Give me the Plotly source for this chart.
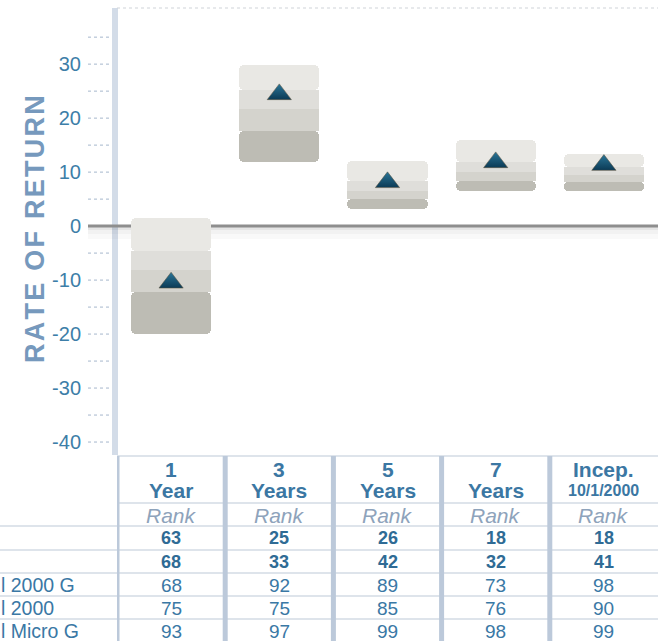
import plotly.graph_objects as go

# ---------------- data ----------------
periods = ["1 Year", "3 Years", "5 Years", "7 Years", "Incep."]
header_top = ["1", "3", "5", "7", "Incep."]
header_bottom = ["Year", "Years", "Years", "Years", "10/1/2000"]

# quartile band boundaries (top -> bottom), % return
band_top = [1.5, 29.8, 12.0, 15.9, 13.3]
band_q1 = [-4.6, 25.2, 8.3, 11.9, 10.9]
band_med = [-8.1, 21.7, 6.5, 10.0, 9.4]
band_q3 = [-12.2, 17.6, 5.0, 8.3, 8.1]
band_bottom = [-20.0, 11.9, 3.1, 6.5, 6.5]

fund_return = [-10.5, 24.4, 8.1, 11.8, 11.3]

y_tick_vals = [-40, -30, -20, -10, 0, 10, 20, 30]
y_tick_text = ["-40", "-30", "-20", "-10", "0", "10", "20", "30"]
y_minor_vals = [-40, -35, -30, -25, -20, -15, -10, -5, 0, 5, 10, 15, 20, 25, 30, 35]

rank_row1 = ["63", "25", "26", "18", "18"]
rank_row2 = ["68", "33", "42", "32", "41"]
bench_labels = ["l 2000 G", "l 2000", "l Micro G"]
bench_ranks = [
    ["68", "92", "89", "73", "98"],
    ["75", "75", "85", "76", "90"],
    ["93", "97", "99", "98", "99"],
]

# ---------------- layout constants ----------------
W, H = 658, 641
L, T, B = 117, 8, 186
PW = W - L
PH = H - T - B
plot_bottom_px = T + PH


def py(pix):
    """pixel y (from top) -> paper y"""
    return (plot_bottom_px - pix) / PH


def px(pix):
    """pixel x (from left) -> paper x"""
    return (pix - L) / PW


band_colors = ["#e9e8e4", "#dfdeda", "#d4d3cd", "#bdbcb4"]
FONT = "Liberation Sans"
BLUE = "#3b77a3"

fig = go.Figure()

bounds = [band_top, band_q1, band_med, band_q3, band_bottom]
for k in range(4):
    upper = bounds[k]
    lower = bounds[k + 1]
    if k == 3:
        base = upper
        height = [lo - up for up, lo in zip(upper, lower)]
    else:
        base = lower
        height = [up - lo for up, lo in zip(upper, lower)]
    cr = 5 if k in (0, 3) else 0
    fig.add_trace(go.Bar(
        x=list(range(len(periods))), y=height, base=base, width=0.74,
        marker=dict(color=band_colors[k], line=dict(width=0), cornerradius=cr),
        hoverinfo="skip", showlegend=False,
    ))

fig.add_trace(go.Scatter(
    x=list(range(len(periods))), y=fund_return, mode="markers",
    marker=dict(symbol="triangle-up", size=21, color="#2a7597",
                gradient=dict(type="vertical", color="#0b3a55"),
                line=dict(color="rgba(95,85,65,0.55)", width=1)),
    showlegend=False, hoverinfo="skip",
))

shapes = []
shapes.append(dict(type="rect", xref="paper", yref="paper", x0=px(112), x1=px(118),
                   y0=0, y1=1, fillcolor="#d3dce8", line=dict(width=0), layer="below"))
shapes.append(dict(type="line", xref="paper", yref="paper", x0=0, x1=1, y0=1, y1=1,
                   line=dict(color="#cfd3d8", width=1, dash="dot"), layer="below"))
for v in y_minor_vals:
    shapes.append(dict(type="line", xref="paper", yref="y", x0=px(88), x1=px(111),
                       y0=v, y1=v, line=dict(color="#a6b7cc", width=1, dash="dot"),
                       layer="below"))
for off0, off1, a in [(-1, -4, 0.10), (-4, -8, 0.05), (-8, -13, 0.025)]:
    shapes.append(dict(type="rect", xref="paper", yref="y", ysizemode="pixel", yanchor=0,
                       x0=px(88), x1=1, y0=off0, y1=off1,
                       fillcolor=f"rgba(0,0,0,{a})", line=dict(width=0), layer="below"))
shapes.append(dict(type="line", xref="paper", yref="y", x0=px(88), x1=1, y0=0, y1=0,
                   line=dict(color="#8e8e8e", width=3), layer="below"))

# ---------------- table ----------------
for pix, x0 in [(456, px(117)), (503, px(117)), (526, px(0)), (550, px(0)),
                (573, px(0)), (596, px(0)), (619, px(0))]:
    shapes.append(dict(type="line", xref="paper", yref="paper", x0=x0, x1=1,
                       y0=py(pix), y1=py(pix), line=dict(color="#d3dbe5", width=1.5)))
for i in range(len(periods)):
    shapes.append(dict(type="line", xref="x", yref="paper", x0=i - 0.5, x1=i - 0.5,
                       y0=py(456), y1=py(H + 5), line=dict(color="#bcc9da", width=5)))

annotations = []


def cell(x, ypix, text, size, color, xref="x", xanchor="center"):
    annotations.append(dict(x=x, y=py(ypix), xref=xref, yref="paper", text=text,
                            xanchor=xanchor, yanchor="middle", showarrow=False,
                            font=dict(family=FONT, size=size, color=color)))


for i in range(len(periods)):
    cell(i, 469, f"<b>{header_top[i]}</b>", 21, BLUE)
    small = header_bottom[i] == "10/1/2000"
    cell(i, 491, f"<b>{header_bottom[i]}</b>", 16 if small else 21, BLUE)
    cell(i, 515, "<i>Rank</i>", 21, "#8ea3bb")
    cell(i, 538, f"<b>{rank_row1[i]}</b>", 18, "#2f6b95")
    cell(i, 562, f"<b>{rank_row2[i]}</b>", 18, "#2f6b95")
    for r, row in enumerate(bench_ranks):
        cell(i, 585 + 23 * r, row[i], 19, "#3a78a5")
for r, lab in enumerate(bench_labels):
    cell(px(-1), 585 + 23 * r, lab, 19.5, "#3a78a5", xref="paper", xanchor="left")

title = "\u200a".join("RATE OF RETURN")
annotations.append(dict(x=px(35), y=py(229), xref="paper", yref="paper",
                        xanchor="center", yanchor="middle",
                        text=f"<b>{title}</b>", textangle=-90, showarrow=False,
                        font=dict(family=FONT, size=27, color="#7699bd")))

fig.update_layout(
    width=W, height=H,
    margin=dict(l=L, r=0, t=T, b=B, pad=0),
    paper_bgcolor="white", plot_bgcolor="white",
    barmode="overlay", bargap=0,
    showlegend=False,
    xaxis=dict(range=[-0.5, 4.5], showticklabels=False, showgrid=False, zeroline=False,
               showline=False, fixedrange=True),
    yaxis=dict(range=[-42.4, 40.4], tickvals=y_tick_vals, ticktext=y_tick_text,
               ticks="outside", ticklen=31,
               tickcolor="rgba(0,0,0,0)", showgrid=False, zeroline=False, showline=False,
               tickfont=dict(family=FONT, size=20, color="#3d7ea8")),
    shapes=shapes,
    annotations=annotations,
)

fig.write_html("out.html", config={"displayModeBar": False},
               post_script="document.body.style.margin='0';document.body.style.overflow='hidden';")
